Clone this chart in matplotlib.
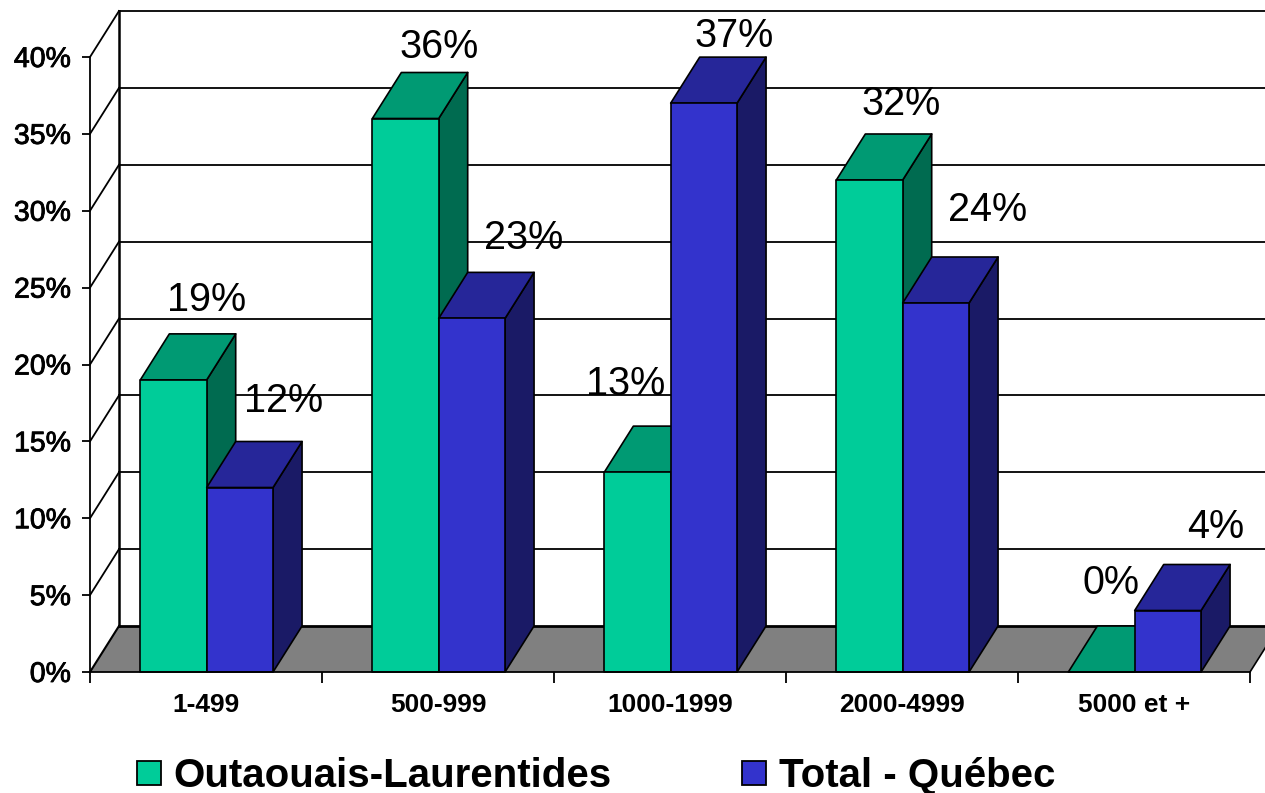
import matplotlib
matplotlib.use('Agg')
import numpy as np
import matplotlib.pyplot as plt
import matplotlib.patheffects as pe
from matplotlib.patches import Polygon, Patch

plt.rcParams['font.family'] = ['Liberation Sans', 'DejaVu Sans']

categories = ['1-499', '500-999', '1000-1999', '2000-4999', '5000 et +']
outaouais = [19, 36, 13, 32, 0]
quebec = [12, 23, 37, 24, 4]
y_ticks = [0, 5, 10, 15, 20, 25, 30, 35, 40]

# label offsets from the bar front top centre, pixels
outaouais_offsets = [(33, 80), (34, 71), (-12, 88), (32, 76), (9, 89)]
quebec_offsets = [(44, 86), (52, 80), (30, 67), (52, 93), (48, 83)]

# face, top, side
green = ('#00CC99', '#009A73', '#006B50')
blue = ('#3333CC', '#262699', '#1A1A66')

# 3d depth in data units (29 px, 46 px)
dx = 29 / 232
dy = 46 / 15.375
bar_w = 0.286


def draw_bar(ax, x0, value, colors, z):
    x1 = x0 + bar_w
    top = [(x0, value), (x1, value), (x1 + dx, value + dy), (x0 + dx, value + dy)]
    side = [(x1, 0), (x1 + dx, dy), (x1 + dx, value + dy), (x1, value)]
    front = [(x0, 0), (x1, 0), (x1, value), (x0, value)]
    for pts, c in [(side, colors[2]), (top, colors[1]), (front, colors[0])]:
        ax.add_patch(Polygon(pts, closed=True, fc=c, ec='black', lw=1.2,
                             zorder=z, clip_on=False, joinstyle='round'))


fig = plt.figure(figsize=(12.65, 7.93), dpi=100)
ax = fig.add_axes([90 / 1265, (793 - 672) / 793, 1160 / 1265, 615 / 793])
ax.set_xlim(0, 5)
ax.set_ylim(0, 40)
ax.patch.set_visible(False)

# floor
ax.add_patch(Polygon([(0, 0), (dx, dy), (5 + dx, dy), (5, 0)], closed=True,
                     fc='#808080', ec='none', zorder=1, clip_on=False))
ax.plot([0, dx], [0, dy], color='black', lw=1.5, zorder=2, clip_on=False)
ax.plot([5, 5 + dx], [0, dy], color='black', lw=1.2, zorder=2, clip_on=False)

# back wall and side wall grid
for t in y_ticks:
    lw = 2.0 if t == 0 else 1.3
    ax.plot([dx, 5 + dx], [t + dy, t + dy], color='black', lw=lw, zorder=2, clip_on=False)
    if t > 0:
        ax.plot([0, dx], [t, t + dy], color='black', lw=1.3, zorder=2, clip_on=False)
ax.plot([dx, dx], [dy, 40 + dy], color='black', lw=1.8, zorder=2, clip_on=False)

# bars, left to right
for i in range(len(categories)):
    centre = i + 0.503
    draw_bar(ax, centre - bar_w, outaouais[i], green, 3 + i * 2)
    draw_bar(ax, centre, quebec[i], blue, 4 + i * 2)
    ax.annotate(f'{outaouais[i]}%', (centre - bar_w / 2, outaouais[i]),
                xytext=outaouais_offsets[i], textcoords='offset pixels',
                ha='center', va='center', fontsize=28.5, zorder=30, annotation_clip=False)
    ax.annotate(f'{quebec[i]}%', (centre + bar_w / 2, quebec[i]),
                xytext=quebec_offsets[i], textcoords='offset pixels',
                ha='center', va='center', fontsize=28.5, zorder=30, annotation_clip=False)

for s in ['top', 'right']:
    ax.spines[s].set_visible(False)
for s in ['left', 'bottom']:
    ax.spines[s].set_linewidth(1.3)
    ax.spines[s].set_zorder(20)

ax.set_yticks(y_ticks)
ax.set_yticklabels([f'{t}%' for t in y_ticks], fontsize=20.5)
# the y labels are a bit heavier than regular, not fully bold
for lab in ax.get_yticklabels():
    lab.set_path_effects([pe.withStroke(linewidth=0.6, foreground='black')])
ax.tick_params(axis='y', length=8 * 0.72, width=1.3, pad=8)
ax.set_xticks(np.arange(6))
ax.set_xticklabels([])
ax.tick_params(axis='x', which='major', length=11 * 0.72, width=1.3)
ax.set_xticks(np.arange(5) + 0.5, minor=True)
ax.set_xticklabels(categories, minor=True, fontsize=19, fontweight='bold')
ax.tick_params(axis='x', which='minor', length=0, pad=15)

handles = [Patch(fc=green[0], ec='black', lw=1.3), Patch(fc=blue[0], ec='black', lw=1.3)]
fig.legend(handles, ['Outaouais-Laurentides', 'Total - Québec'],
           loc='center', bbox_to_anchor=(596 / 1265, 1 - 776 / 793), ncol=2,
           frameon=False, prop={'size': 29, 'weight': 'bold'},
           handlelength=0.6, handleheight=0.55, handletextpad=0.3, columnspacing=3.25,
           borderpad=0, borderaxespad=0)

plt.savefig('out.png', dpi=100)
